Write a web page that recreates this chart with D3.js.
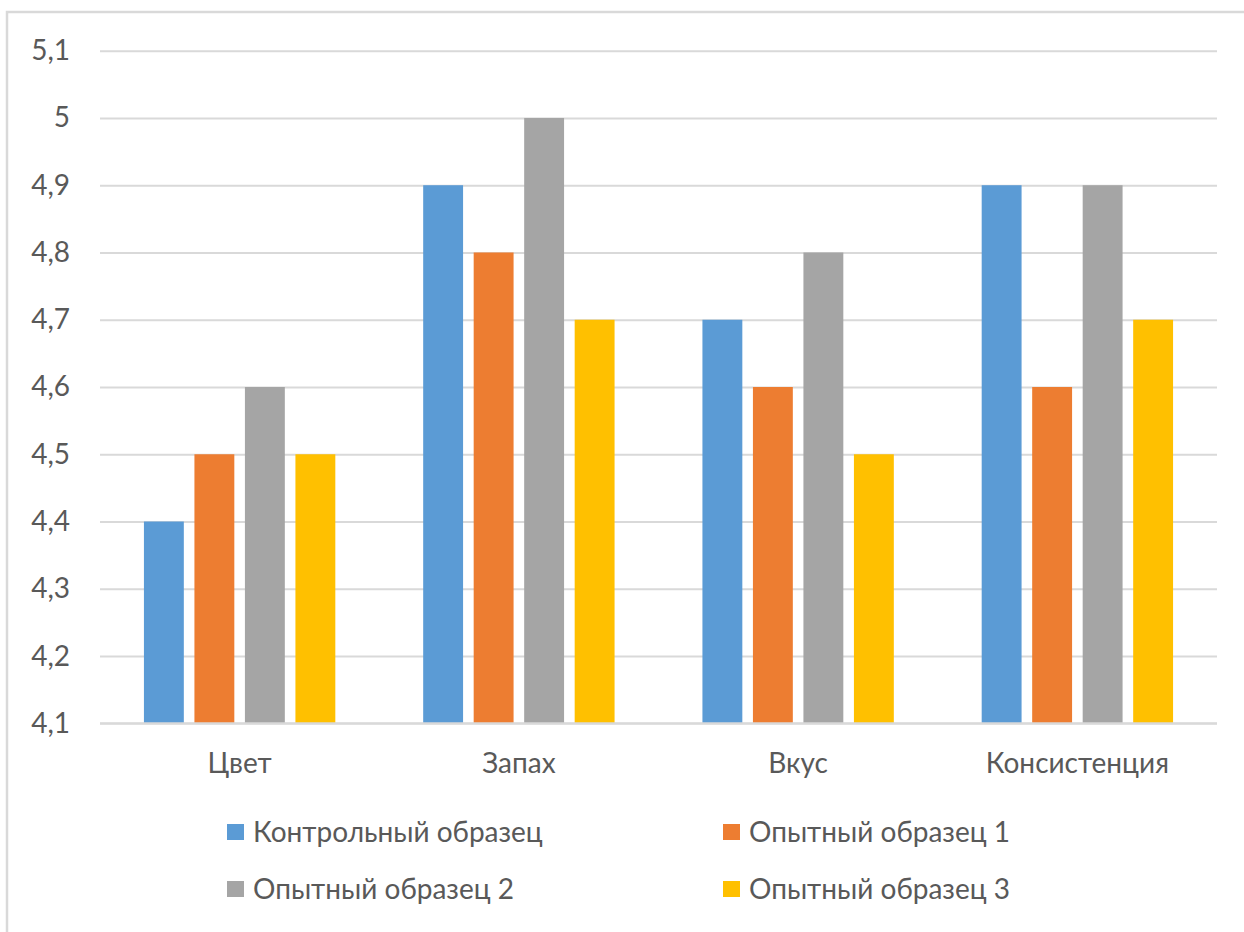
<!DOCTYPE html>
<html lang="ru">
<head>
<meta charset="utf-8">
<script src="https://cdn.jsdelivr.net/npm/d3@7"></script>
<style>
  html, body { margin: 0; padding: 0; background: #ffffff; }
  svg { display: block; }
  text { font-family: Lato, "Open Sans", sans-serif; fill: #595959; }
</style>
</head>
<body>
<svg id="chart" width="1244" height="932"></svg>
<script>
// Organoleptic scores per attribute
const categories = ["Цвет", "Запах", "Вкус", "Консистенция"];
const seriesNames = ["Контрольный образец", "Опытный образец 1", "Опытный образец 2", "Опытный образец 3"];
const control = [4.4, 4.9, 4.7, 4.9];
const sample1 = [4.5, 4.8, 4.6, 4.6];
const sample2 = [4.6, 5.0, 4.8, 4.9];
const sample3 = [4.5, 4.7, 4.5, 4.7];
const yTicks = [4.1, 4.2, 4.3, 4.4, 4.5, 4.6, 4.7, 4.8, 4.9, 5.0, 5.1];
const colors = ["#5b9bd5", "#ed7d31", "#a5a5a5", "#ffc000"];

const seriesValues = [control, sample1, sample2, sample3];

const svg = d3.select("#chart");
const plot = { left: 100, right: 1217, top: 50.7, bottom: 723.3 };
const fontSize = 28;

// chart frame
svg.append("rect")
  .attr("x", 7).attr("y", 12)
  .attr("width", 1300).attr("height", 1000)
  .attr("fill", "#ffffff")
  .attr("stroke", "#d9d9d9").attr("stroke-width", 2.5);

const y = d3.scaleLinear().domain([4.1, 5.1]).range([plot.bottom, plot.top]);
const x0 = d3.scaleBand().domain(categories).range([plot.left, plot.right]).padding(0);
const x1 = d3.scaleBand().domain(seriesNames).range([0, x0.bandwidth()])
  .paddingInner(0.21).paddingOuter(0.87);

const fmt = v => (Math.round(v * 10) / 10).toString().replace(".", ",");

// gridlines + y labels via axis
const yAxis = d3.axisLeft(y).tickValues(yTicks).tickFormat(fmt)
  .tickSize(-(plot.right - plot.left)).tickPadding(30);
const gy = svg.append("g").attr("transform", `translate(${plot.left},0)`).call(yAxis);
gy.select(".domain").remove();
gy.selectAll(".tick line").attr("stroke", "#d9d9d9").attr("stroke-width", 2);
gy.selectAll(".tick text")
  .attr("font-size", fontSize).attr("fill", "#595959")
  .style("font-family", "Lato, 'Open Sans', sans-serif");

// bars
const groups = svg.append("g").selectAll("g")
  .data(categories)
  .join("g")
  .attr("transform", d => `translate(${x0(d)},0)`);

groups.selectAll("rect")
  .data((d, i) => seriesNames.map((s, j) => ({ s, j, v: seriesValues[j][i] })))
  .join("rect")
  .attr("x", d => x1(d.s))
  .attr("width", x1.bandwidth())
  .attr("y", d => y(d.v))
  .attr("height", d => y(4.1) - y(d.v))
  .attr("fill", d => colors[d.j]);

// baseline
svg.append("line")
  .attr("x1", plot.left).attr("x2", plot.right)
  .attr("y1", y(4.1)).attr("y2", y(4.1))
  .attr("stroke", "#d9d9d9").attr("stroke-width", 2);

// category labels
const xAxis = d3.axisBottom(x0).tickSize(0).tickPadding(30);
const gx = svg.append("g").attr("transform", `translate(0,${plot.bottom})`).call(xAxis);
gx.select(".domain").remove();
gx.selectAll(".tick text")
  .attr("font-size", fontSize).attr("fill", "#595959")
  .style("font-family", "Lato, 'Open Sans', sans-serif");

// legend: two columns, two rows
const legendPos = [
  { x: 227, y: 832 }, { x: 723, y: 832 },
  { x: 227, y: 889 }, { x: 723, y: 889 }
];
const legend = svg.append("g").selectAll("g")
  .data(seriesNames)
  .join("g")
  .attr("transform", (d, i) => `translate(${legendPos[i].x},${legendPos[i].y})`);
legend.append("rect")
  .attr("x", 0).attr("y", -8).attr("width", 17).attr("height", 16)
  .attr("fill", (d, i) => colors[i]);
legend.append("text")
  .attr("x", 26).attr("y", 0).attr("dy", "0.35em")
  .attr("font-size", fontSize)
  .text(d => d);
</script>
</body>
</html>
